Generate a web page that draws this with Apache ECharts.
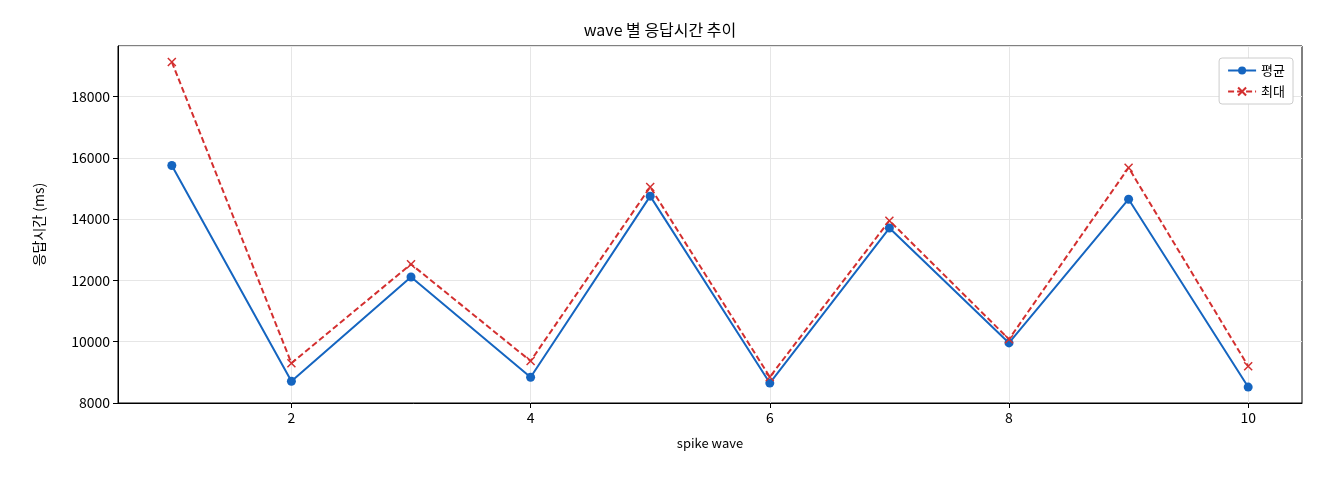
<!DOCTYPE html>
<html><head><meta charset="utf-8">
<script src="https://cdn.jsdelivr.net/npm/echarts@6/dist/echarts.min.js"></script>
<style>html,body{margin:0;padding:0;background:#fff}#c{width:1320px;height:480px}</style>
</head><body><div id="c"></div>
<script>
const waves = [1,2,3,4,5,6,7,8,9,10];
const avgVals = [15750,8710,12110,8840,14750,8650,13710,9960,14650,8520];
const maxVals = [19130,9300,12530,9370,15050,8850,13950,10080,15680,9200];
const xTicks = [2,4,6,8,10];
const font = '"Noto Sans CJK KR", "DejaVu Sans", sans-serif';
const chart = echarts.init(document.getElementById('c'));
chart.setOption({
  animation:false,
  textStyle:{fontFamily:font},
  title:{text:'wave 별 응답시간 추이',left:'center',top:17,textStyle:{fontFamily:font,fontSize:16,fontWeight:'normal',color:'#000'}},
  legend:{right:27,top:58,orient:'vertical',itemGap:8,backgroundColor:'#fff',borderColor:'#ccc',borderWidth:1,borderRadius:3,padding:[6,8],
    textStyle:{fontFamily:font,fontSize:13,color:'#000'},itemWidth:28,itemHeight:10},
  grid:{left:118,right:18,top:46,bottom:77,show:true,borderColor:'#000',borderWidth:1},
  xAxis:{type:'value',min:0.55,max:10.45,name:'spike wave',nameLocation:'middle',nameGap:34,
    nameTextStyle:{fontFamily:font,fontSize:13,color:'#000'},
    axisLine:{show:true,lineStyle:{color:'#000'}},
    axisTick:{show:true,customValues:xTicks,length:5,lineStyle:{color:'#000'}},
    axisLabel:{customValues:xTicks,fontFamily:font,fontSize:14,color:'#000',margin:8},
    splitLine:{show:true,lineStyle:{color:'#e6e6e6'}}},
  yAxis:{type:'value',min:8000,max:19650,interval:2000,name:'응답시간 (ms)',nameLocation:'middle',nameGap:72,
    nameTextStyle:{fontFamily:font,fontSize:14,color:'#000'},
    axisLine:{show:true,lineStyle:{color:'#000'}},
    axisTick:{show:true,length:5,lineStyle:{color:'#000'}},
    axisLabel:{fontFamily:font,fontSize:14,color:'#000',showMaxLabel:false,formatter:v=>String(v)},
    splitLine:{show:true,lineStyle:{color:'#e6e6e6'}}},
  series:[
    {name:'평균',type:'line',data:waves.map((w,i)=>[w,avgVals[i]]),symbol:'circle',symbolSize:9,
      lineStyle:{color:'#1565c0',width:2},itemStyle:{color:'#1565c0'}},
    {name:'최대',type:'line',data:waves.map((w,i)=>[w,maxVals[i]]),
      symbol:'path://M0,0L10,10M10,0L0,10',symbolSize:8,
      lineStyle:{color:'#d32f2f',width:2,type:[6,3]},itemStyle:{color:'none',borderColor:'#d32f2f',borderWidth:1.5}}
  ]
});
</script></body></html>
